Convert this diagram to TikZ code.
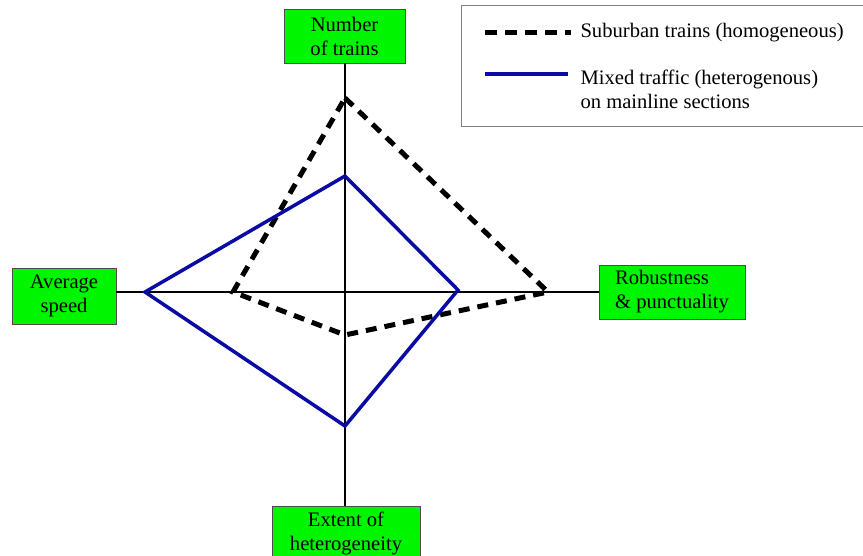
\documentclass[tikz,border=0pt]{standalone}
\usepackage{fontspec}
\setmainfont{Liberation Serif}
\definecolor{mixedblue}{RGB}{10,10,165}
\definecolor{boxgreen}{RGB}{0,245,0}
\begin{document}
\begin{tikzpicture}[x=1pt, y=-1pt,
  font=\fontsize{20.6}{24}\selectfont,
  axisbox/.style={draw=black!70, fill=boxgreen, line width=0.8pt, align=center, inner sep=0pt},
  axisline/.style={line width=1.4pt},
  suburban/.style={line width=5pt, dash pattern=on 11pt off 8pt},
  mixed/.style={draw=mixedblue, line width=3.5pt, line join=miter}]
\useasboundingbox (0,0) rectangle (863,556);
\coordinate (c) at (345,292);
\node[axisbox, minimum width=121pt, minimum height=54pt] (ntrains) at (344.5,36) {Number\\of trains};
\node[axisbox, minimum width=104pt, minimum height=56pt] (speed) at (64,296) {Average\\speed};
\node[axisbox, minimum width=146pt, minimum height=54pt, align=left] (robust) at (672,292) {Robustness\\\& punctuality};
\node[axisbox, minimum width=148pt, minimum height=54pt] (hetero) at (346,533) {Extent of\\heterogeneity};
\draw[axisline] (c |- ntrains.south) -- (c |- hetero.north);
\draw[axisline] (c -| speed.east) -- (c -| robust.west);
\draw[suburban] (345,98) -- (548,292) -- (345,335) -- (233,292) -- cycle;
\draw[mixed] (345,176) -- (458,290) -- (345,426) -- (145,292) -- cycle;
% legend
\draw[draw=black!50, line width=0.8pt] (461,5) rectangle (875,126);
\node[anchor=west] (sublabel) at (577,33) {Suburban trains (homogeneous)};
\node[anchor=west, align=left] (mixlabel) at (577,89) {Mixed traffic (heterogenous)\\on mainline sections};
\draw[suburban, dash pattern=on 12pt off 8pt] (485,33) -- (571,33);
\draw[mixed] (485,74) -- (568,74);
\end{tikzpicture}
\end{document}
